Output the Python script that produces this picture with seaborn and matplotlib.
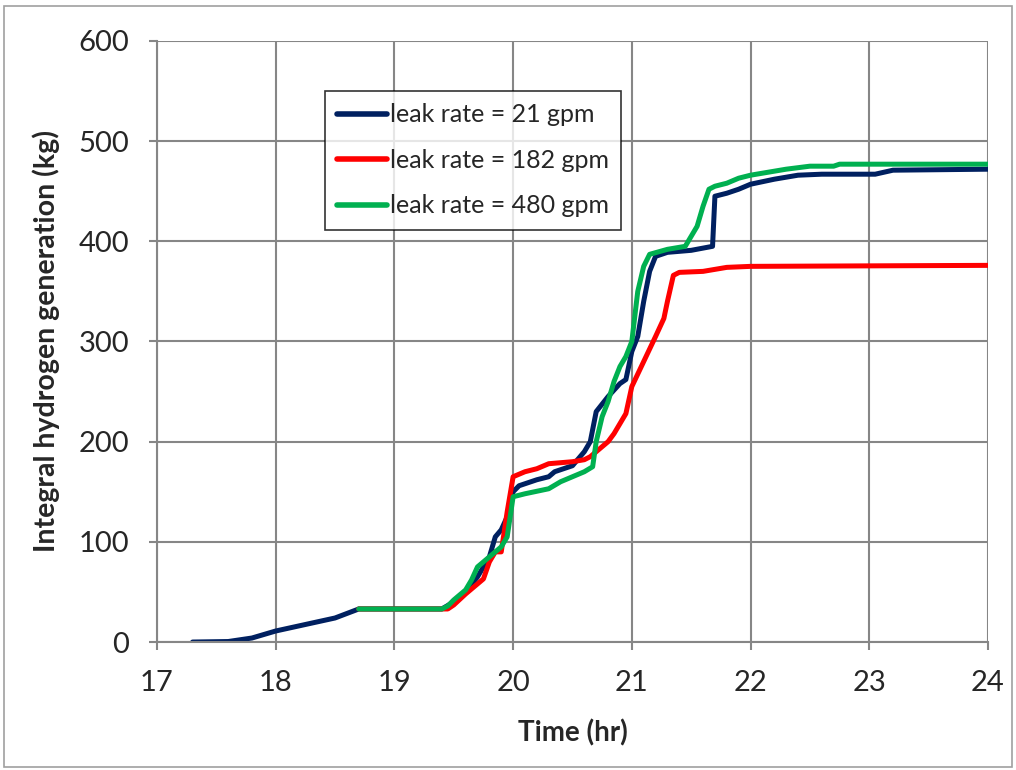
import matplotlib
matplotlib.use("Agg")
import matplotlib.pyplot as plt
import seaborn as sns
import pandas as pd
from matplotlib.patches import Rectangle

# --- data ---
t_21 = [17.3, 17.6, 17.8, 18.0, 18.5, 18.7, 19.4, 19.5, 19.6, 19.7, 19.8, 19.85, 19.9, 19.95,
        20.0, 20.05, 20.2, 20.3, 20.35, 20.5, 20.6, 20.65, 20.7, 20.8, 20.9, 20.95, 21.0, 21.05,
        21.1, 21.15, 21.2, 21.3, 21.5, 21.68, 21.7, 21.8, 21.9, 22.0, 22.2, 22.4, 22.6, 23.05,
        23.2, 24.0]
h_21 = [0, 0.5, 4, 11, 24, 33, 33, 40, 50, 65, 85, 105, 112, 125,
        150, 156, 162, 165, 170, 176, 190, 200, 230, 245, 258, 262, 290, 305,
        340, 370, 385, 389, 391, 395, 445, 448, 452, 457, 462, 466, 467, 467,
        471, 472]

t_182 = [18.7, 19.45, 19.5, 19.6, 19.7, 19.75, 19.8, 19.85, 19.9, 19.95, 20.0, 20.1, 20.2,
         20.3, 20.5, 20.6, 20.65, 20.7, 20.8, 20.85, 20.9, 20.95, 21.0, 21.1, 21.2, 21.27,
         21.3, 21.35, 21.4, 21.6, 21.7, 21.8, 22.0, 24.0]
h_182 = [33, 33, 37, 48, 58, 63, 80, 90, 90, 130, 165, 170, 173,
         178, 180, 182, 185, 190, 200, 208, 218, 228, 255, 280, 305, 323,
         340, 366, 369, 370, 372, 374, 375, 376]

t_480 = [18.7, 19.4, 19.45, 19.5, 19.6, 19.65, 19.7, 19.75, 19.8, 19.85, 19.9, 19.95, 20.0,
         20.1, 20.3, 20.4, 20.5, 20.6, 20.67, 20.7, 20.75, 20.8, 20.85, 20.9, 20.95, 21.0,
         21.05, 21.1, 21.15, 21.3, 21.45, 21.5, 21.55, 21.6, 21.65, 21.7, 21.8, 21.9, 22.0,
         22.3, 22.5, 22.7, 22.75, 24.0]
h_480 = [33, 33, 36, 42, 52, 62, 75, 80, 85, 90, 95, 105, 145,
         148, 153, 160, 165, 170, 175, 200, 225, 240, 260, 275, 285, 300,
         350, 375, 387, 392, 395, 405, 415, 435, 452, 455, 458, 463, 466,
         472, 475, 475, 477, 477]

series_names = ["leak rate = 21 gpm", "leak rate = 182 gpm", "leak rate = 480 gpm"]
series_colors = ["#002060", "#FF0000", "#00B050"]
x_ticks = [17, 18, 19, 20, 21, 22, 23, 24]
y_ticks = [0, 100, 200, 300, 400, 500, 600]

frames = []
for name, t, h in zip(series_names, [t_21, t_182, t_480], [h_21, h_182, h_480]):
    frames.append(pd.DataFrame({"Time": t, "H2": h, "series": name}))
df = pd.concat(frames, ignore_index=True)

sns.set_style("white")
plt.rcParams["font.family"] = ["Lato", "DejaVu Sans"]

fig = plt.figure(figsize=(10.16, 7.7), dpi=100)
ax = fig.add_axes([0.1545, 0.1662, 0.9724 - 0.1545, 0.9468 - 0.1662])

# outer chart border
fig.patches.append(Rectangle((0.004, 0.004), 0.992, 0.988, transform=fig.transFigure,
                             fill=False, edgecolor="#A0A0A0", linewidth=1.2))

sns.lineplot(data=df, x="Time", y="H2", hue="series", hue_order=series_names,
             palette=series_colors, linewidth=3.6, sort=False, estimator=None, ax=ax,
             legend=True)

ax.set_xlim(17, 24)
ax.set_ylim(0, 600)
ax.set_xticks(x_ticks)
ax.set_yticks(y_ticks)
ax.grid(True, color="#868686", linewidth=1.5)
ax.set_axisbelow(True)
for s in ["top", "right"]:
    ax.spines[s].set_visible(False)
for s in ["left", "bottom"]:
    ax.spines[s].set_color("#868686")
    ax.spines[s].set_linewidth(1.5)
ax.tick_params(axis="both", which="major", labelsize=21, length=6, width=1.5,
               color="#868686", direction="out", bottom=True, left=True)
ax.tick_params(axis="y", pad=14)
ax.tick_params(axis="x", pad=14)

ax.set_xlabel("Time (hr)", fontsize=20, fontweight="bold", labelpad=17)
ax.set_ylabel("Integral hydrogen generation (kg)", fontsize=20.5, fontweight="bold", labelpad=13)

handles, labels = ax.get_legend_handles_labels()
leg = ax.legend(handles, labels, loc="upper left", bbox_to_anchor=(0.202, 0.917),
                fontsize=18, frameon=True, fancybox=False, edgecolor="black",
                handlelength=2.0, handletextpad=0.1, labelspacing=0.9,
                borderpad=0.5, borderaxespad=0)
leg.get_frame().set_linewidth(1.2)
for line in leg.get_lines():
    line.set_linewidth(4)

fig.savefig("out.png", dpi=100)
